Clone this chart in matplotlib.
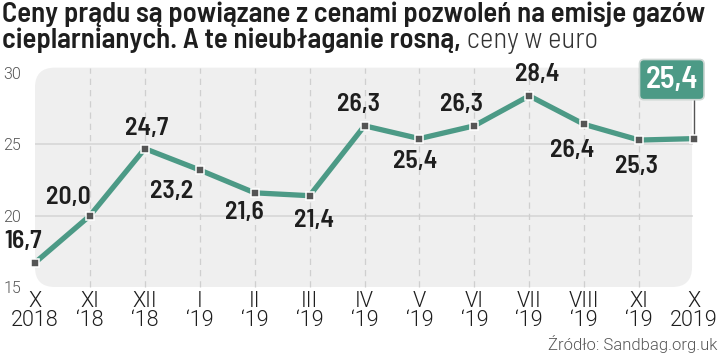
import matplotlib
matplotlib.use("Agg")
import matplotlib.pyplot as plt
from matplotlib.patches import FancyBboxPatch

months = ["X\n2018", "XI\n\u201818", "XII\n\u201818", "I\n\u201819", "II\n\u201819", "III\n\u201819",
          "IV\n\u201819", "V\n\u201819", "VI\n\u201819", "VII\n\u201819", "VIII\n\u201819",
          "XI\n\u201819", "X\n2019"]
prices = [16.7, 20.0, 24.7, 23.2, 21.6, 21.4, 26.3, 25.4, 26.3, 28.4, 26.4, 25.3, 25.4]
yticks = [15, 20, 25, 30]
title_bold = ["Ceny prądu są powiązane z cenami pozwoleń na emisje gazów",
              "cieplarnianych. A te nieubłaganie rosną,"]
title_light = " ceny w euro"
source = "Źródło: Sandbag.org.uk"

# label offsets in pixels (dx right, dy up)
offsets = [(-12, 21), (-22, 18), (2, 20), (-28, -21), (-10, -20), (4, -25),
           (-6, 21), (-4, -23), (-13, 21), (8, 21), (-12, -26), (-3, -26)]

TEAL = "#4c9a86"
BOLD = dict(family=["Barlow Semi Condensed", "Roboto Condensed", "DejaVu Sans"], fontweight=600)
TITLEF = dict(family=["Barlow Semi Condensed", "Roboto Condensed", "DejaVu Sans"], fontweight=600)
LIGHT = dict(family=["Roboto", "DejaVu Sans"], fontweight=300)
LIGHTC = dict(family=["Barlow Semi Condensed", "Roboto Condensed", "DejaVu Sans"], fontweight=300)

W, H = 720, 356
fig = plt.figure(figsize=(W / 100, H / 100), dpi=100)
fig.patch.set_facecolor("white")

ax = fig.add_axes([35 / W, 1 - 287 / H, (694 - 35) / W, (287 - 73) / H])
x = list(range(len(prices)))
ax.set_xlim(0, len(prices) - 1)
ax.set_ylim(15, 30)
for s in ax.spines.values():
    s.set_visible(False)
ax.set_facecolor("none")

panel = FancyBboxPatch((0, 0), 0.997, 1.025, boxstyle="round,pad=0,rounding_size=0.03",
                       transform=ax.transAxes, facecolor="#efefef", edgecolor="none",
                       zorder=0, clip_on=False, mutation_aspect=659 / 214)
ax.add_patch(panel)

for yv in [20, 25]:
    ax.plot([0, 0.997], [(yv - 15) / 15] * 2, transform=ax.transAxes, color="#d6d6d6",
            lw=1.2, zorder=1)
for xi in x[1:-1]:
    ax.plot([xi, xi], [15, 30.35], color="#cfcfcf", lw=0.9, ls=(0, (5, 4)), zorder=1,
            clip_on=False)

ax.plot(x, prices, color=TEAL, lw=3.8, zorder=3, clip_on=False, solid_joinstyle="miter")
ax.plot(x, prices, ls="none", marker="s", ms=5.5, mfc="#555555", mec="white", mew=1.1,
        zorder=4, clip_on=False)

for i, v in enumerate(prices[:-1]):
    dx, dy = offsets[i]
    ax.annotate(f"{v:.1f}".replace(".", ","), (i, v), xytext=(dx * 0.72, dy * 0.72),
                textcoords="offset points", ha="center", va="center", fontsize=18.5,
                color="#1e1e1e", zorder=5, **BOLD)

last = len(prices) - 1
ax.annotate(f"{prices[-1]:.1f}".replace(".", ","), (last, prices[-1]),
            xytext=(-16, 42.5), textcoords="offset points", ha="center", va="center",
            fontsize=22, color="white", zorder=6, **BOLD,
            bbox=dict(boxstyle="round,pad=0.2,rounding_size=0.15", fc=TEAL, ec="#cfd8d5", lw=1.2))
ax.plot([last, last], [prices[-1], prices[-1] + 3.0], color="#555555", lw=1, zorder=2,
        clip_on=False)

ax.set_yticks(yticks)
ax.set_yticklabels([str(t) for t in yticks], fontsize=11.5, color="#555555", **LIGHT)
ax.tick_params(axis="y", length=0, pad=10)
ax.set_xticks(x)
ax.set_xticklabels(months, fontsize=15.5, color="#1e1e1e", linespacing=0.88, **LIGHT)
ax.tick_params(axis="x", length=0, pad=3)
ax.grid(False)

# title (fit first line to ~705 px)
t1 = fig.text(2 / W, 1 - 14 / H, title_bold[0], fontsize=18, color="#1e1e1e",
              va="center", ha="left", **TITLEF)
fig.canvas.draw()
w1 = t1.get_window_extent().width
fs = 18 * 703 / w1
t1.set_fontsize(fs)
t2 = fig.text(2 / W, 1 - 40 / H, title_bold[1], fontsize=fs, color="#1e1e1e",
              va="center", ha="left", **TITLEF)
fig.canvas.draw()
bb = t2.get_window_extent()
fig.text(bb.x1 / W, 1 - 40 / H, title_light, fontsize=fs, color="#333333", va="center",
         ha="left", **LIGHTC)

fig.text(717 / W, 1 - 344 / H, source, fontsize=12, color="#555555", ha="right",
         va="center", **LIGHT)

fig.savefig("out.png", dpi=100, facecolor="white")
